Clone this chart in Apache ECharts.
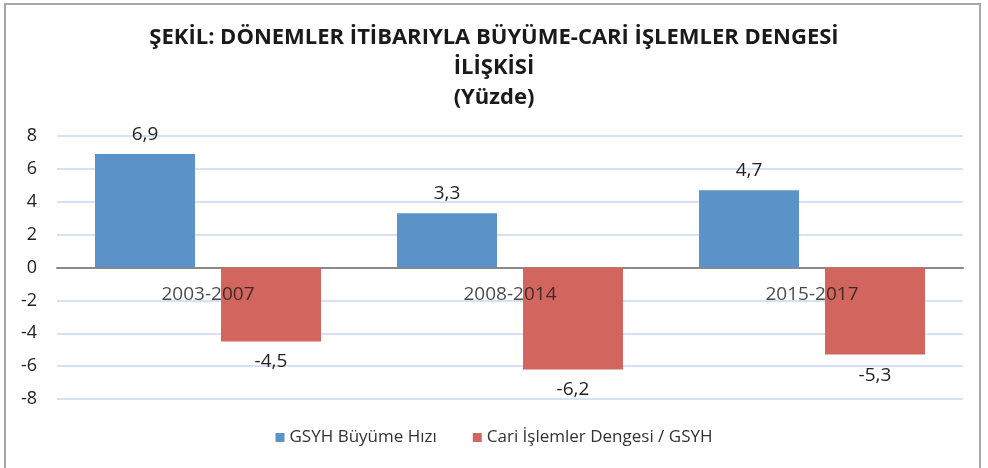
<!DOCTYPE html>
<html>
<head>
<meta charset="utf-8">
<script src="https://cdn.jsdelivr.net/npm/echarts@6/dist/echarts.min.js"></script>
<style>
  html, body { margin: 0; padding: 0; background: #fff; }
  #frame { position: absolute; left: 4px; top: 3px; width: 977px; height: 470px; border: 2px solid #a6a6a6; box-sizing: border-box; }
  #chart { position: absolute; left: 0; top: 0; width: 988px; height: 468px; }
</style>
</head>
<body>
<div id="frame"></div>
<div id="chart"></div>
<script>
const periods = ['2003-2007', '2008-2014', '2015-2017'];
const gdpGrowth = [6.9, 3.3, 4.7];
const currentAccount = [-4.5, -6.2, -5.3];
const seriesNames = ['GSYH Büyüme Hızı', 'Cari İşlemler Dengesi / GSYH'];
const titleLines = ['ŞEKİL: DÖNEMLER İTİBARIYLA BÜYÜME-CARİ İŞLEMLER DENGESİ', 'İLİŞKİSİ', '(Yüzde)'];

const FONT = '"Open Sans", sans-serif';
const fmt = p => String(p.value).replace('.', ',');

const chart = echarts.init(document.getElementById('chart'));
chart.setOption({
  animation: false,
  title: {
    text: titleLines.join('\n'),
    left: 'center',
    top: 18,
    textStyle: { fontFamily: FONT, fontWeight: 'bold', fontSize: 22, lineHeight: 30, color: '#1a1a1a' }
  },
  legend: {
    bottom: 17,
    left: 'center',
    itemWidth: 9,
    itemHeight: 9,
    itemGap: 36,
    icon: 'rect',
    textStyle: { fontFamily: FONT, fontSize: 17, color: '#333' },
    data: seriesNames
  },
  grid: { left: 57, right: 25, top: 136, bottom: 69, containLabel: false },
  xAxis: {
    type: 'category',
    data: periods,
    axisLine: { onZero: true, lineStyle: { color: '#898989', width: 2 } },
    axisTick: { show: false },
    axisLabel: { show: false }
  },
  yAxis: {
    type: 'value',
    min: -8,
    max: 8,
    interval: 2,
    axisLine: { show: false },
    axisTick: { show: false },
    axisLabel: { fontFamily: FONT, fontSize: 18, color: '#222', margin: 20 },
    splitLine: { lineStyle: { color: '#c8d8ee', width: 1.5 } }
  },
  series: [
    {
      name: seriesNames[0],
      type: 'bar',
      data: gdpGrowth,
      barWidth: 100,
      barGap: '26%',
      itemStyle: { color: '#5b92c8' },
      label: { show: true, position: 'top', distance: 10, formatter: fmt, fontFamily: FONT, fontSize: 19, color: '#222' }
    },
    {
      name: seriesNames[1],
      type: 'bar',
      data: currentAccount,
      barWidth: 100,
      itemStyle: { color: '#d2665f' },
      label: { show: true, position: 'bottom', distance: 11, formatter: fmt, fontFamily: FONT, fontSize: 19, color: '#222' }
    },
    {
      // category names written just under the zero line
      name: 'periodLabels',
      type: 'scatter',
      data: periods.map(() => 0),
      symbolSize: 0,
      silent: true,
      z: 5,
      label: { show: true, position: 'bottom', distance: 18, formatter: p => p.name, fontFamily: FONT, fontSize: 19, color: '#1a1a1a' }
    }
  ]
});
</script>
</body>
</html>
